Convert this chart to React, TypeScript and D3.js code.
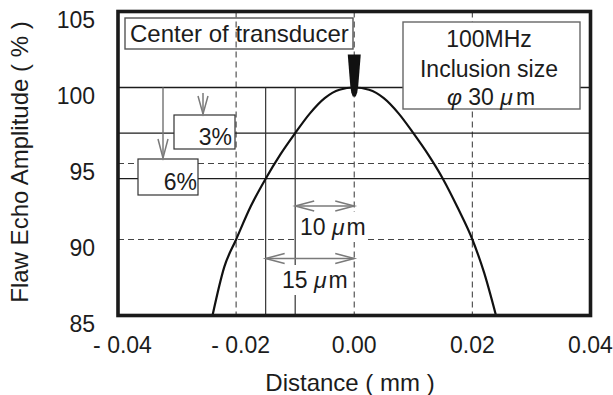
import React from 'react';
import * as d3 from 'd3';

// Echo amplitude profile across the transducer axis (distance in mm, amplitude in %)
const distance = [-0.024, -0.022, -0.02, -0.0175, -0.015, -0.0125, -0.01, -0.0075, -0.005, -0.0025, 0, 0.0025, 0.005, 0.0075, 0.01, 0.0125, 0.015, 0.0175, 0.02, 0.022, 0.024];
const amplitude = [85, 88.2, 90, 92.2, 94, 95.6, 97, 98.3, 99.3, 99.85, 100, 99.85, 99.3, 98.3, 97, 95.6, 94, 92.1, 90, 87.8, 85];

const xTicks = [-0.04, -0.02, 0, 0.02, 0.04];
const xTickLabels = ['- 0.04', '- 0.02', '0.00', '0.02', '0.04'];
const yTicks = [85, 90, 95, 100, 105];
const dashedX = [-0.02, 0, 0.02];
const dashedY = [90, 95];
// peak level and the 3% / 6% drop levels
const levelLines = [100, 97, 94];
// positions where the amplitude drops by 6% and 3%
const dropWidths = [-0.015, -0.01];
const dropLabels = ['6%', '3%'];

const W = 613;
const H = 395;
const FONT = '"Liberation Sans", Arial, Helvetica, sans-serif';
const INK = '#1c1c1c';

export default function App() {
  const x = d3.scaleLinear().domain([-0.04, 0.04]).range([118, 590.5]);
  const y = d3.scaleLinear().domain([85, 105]).range([315.5, 11.5]);
  const [x0, x1] = x.range();
  const [yb, yt] = y.range();

  const pts: [number, number][] = distance.map((d, i) => [d, amplitude[i]]);
  const line = d3
    .line<[number, number]>()
    .x((d) => x(d[0]))
    .y((d) => y(d[1]))
    .curve(d3.curveMonotoneX);

  const cx = x(0);
  const peakY = y(100);
  // downward marker over the beam centre
  const marker = [
    [-6.5, -33], [6.5, -33], [5, -14], [4, -2], [3, 5], [1.5, 9], [-1.5, 9], [-3, 5], [-4, -2], [-5, -14],
  ]
    .map(([dx, dy]) => `${cx + dx},${peakY + dy}`)
    .join(' ');

  const gray = '#7a7a7a';

  // open arrowhead pointing in direction (ux, uy) with tip at (tx, ty)
  const head = (tx: number, ty: number, ux: number, uy: number, len = 19, spread = 5) => {
    const px = -uy;
    const py = ux;
    const bx = tx - ux * len;
    const by = ty - uy * len;
    return `M${bx + px * spread},${by + py * spread} L${tx},${ty} L${bx - px * spread},${by - py * spread}`;
  };

  const xs15 = x(dropWidths[0]);
  const xs10 = x(dropWidths[1]);
  const y10 = y(92.2);
  const y15 = y(88.75);

  return (
    <div style={{ position: 'absolute', left: 0, top: 0 }}>
      <svg width={W} height={H} style={{ display: 'block', background: '#fff' }} fontFamily={FONT}>
        {/* dashed grid */}
        {dashedX.map((v) => (
          <line key={'dx' + v} x1={x(v)} x2={x(v)} y1={yt} y2={yb} stroke="#555" strokeWidth={1.2} strokeDasharray="6 4" />
        ))}
        {dashedY.map((v) => (
          <line key={'dy' + v} x1={x0} x2={x1} y1={y(v)} y2={y(v)} stroke="#444" strokeWidth={1.2} strokeDasharray="6 4" />
        ))}

        {/* peak and drop levels */}
        {levelLines.map((v) => (
          <line key={'lv' + v} x1={x0} x2={x1} y1={y(v)} y2={y(v)} stroke={INK} strokeWidth={1.3} />
        ))}
        {dropWidths.map((v) => (
          <line key={'dw' + v} x1={x(v)} x2={x(v)} y1={peakY} y2={yb} stroke="#333" strokeWidth={1.2} />
        ))}

        {/* amplitude profile */}
        <path d={line(pts) ?? ''} fill="none" stroke="#111" strokeWidth={2.2} />

        {/* drop level boxes */}
        <rect x={174} y={115} width={61} height={34} fill="#fff" stroke="#333" strokeWidth={1.2} />
        <text x={232} y={145} textAnchor="end" fontSize={23} fill={INK}>{dropLabels[1]}</text>
        <rect x={138} y={159} width={60} height={36} fill="#fff" stroke="#333" strokeWidth={1.2} />
        <text x={197} y={190} textAnchor="end" fontSize={23} fill={INK}>{dropLabels[0]}</text>

        {/* leader arrows to the drop boxes */}
        <g stroke={gray} strokeWidth={1.5} fill="none">
          <line x1={203} x2={203} y1={93} y2={114} />
          <path d={head(203, 114, 0, 1, 18, 5)} />
          <line x1={163} x2={163} y1={peakY} y2={158} />
          <path d={head(163, 158, 0, 1, 19, 5)} />
        </g>

        {/* half-width dimension labels */}
        <rect x={296} y={212} width={70} height={30} fill="#fff" />
        <text x={300} y={235} fontSize={23} fill={INK}>
          10 <tspan fontStyle="italic">μ</tspan><tspan dx={2}>m</tspan>
        </text>
        <rect x={270} y={265} width={82} height={30} fill="#fff" />
        <text x={282} y={288} fontSize={23} fill={INK}>
          15 <tspan fontStyle="italic">μ</tspan><tspan dx={2}>m</tspan>
        </text>

        <g stroke={gray} strokeWidth={1.5} fill="none">
          <line x1={xs10} x2={cx} y1={y10} y2={y10} />
          <path d={head(xs10, y10, -1, 0)} />
          <path d={head(cx, y10, 1, 0)} />
          <line x1={xs15} x2={cx} y1={y15} y2={y15} />
          <path d={head(xs15, y15, -1, 0)} />
          <path d={head(cx, y15, 1, 0)} />
        </g>

        {/* centre marker */}
        <polygon points={marker} fill="#111" />

        {/* annotation boxes */}
        <rect x={125} y={18} width={228} height={31} fill="none" stroke="#555" strokeWidth={1.4} />
        <text x={130} y={42} fontSize={24} fill={INK}>Center of transducer</text>

        <rect x={403} y={22} width={177} height={87} fill="#fff" stroke="#666" strokeWidth={1.4} />
        <text x={489} y={47} textAnchor="middle" fontSize={23} fill={INK}>100MHz</text>
        <text x={489} y={77} textAnchor="middle" fontSize={23} fill={INK}>Inclusion size</text>
        <text x={491} y={105} textAnchor="middle" fontSize={23} fill={INK}>
          <tspan fontStyle="italic">φ</tspan> 30 <tspan fontStyle="italic">μ</tspan><tspan dx={3}>m</tspan>
        </text>

        {/* frame */}
        <rect x={x0} y={yt} width={x1 - x0} height={yb - yt} fill="none" stroke="#1a1a1a" strokeWidth={3.6} />

        {/* axes */}
        {yTicks.map((v) => (
          <text key={'yt' + v} x={95} y={y(v) + 16.5} textAnchor="end" fontSize={23} fill={INK}>
            {v}
          </text>
        ))}
        {xTicks.map((v, i) => (
          <text key={'xt' + v} x={x(v) + (v < 0 ? 4.5 : 0)} y={353} textAnchor="middle" fontSize={23} fill={INK}>
            {xTickLabels[i]}
          </text>
        ))}
        <text x={350} y={391} textAnchor="middle" fontSize={24} fill={INK}>Distance ( mm )</text>
        <text transform="translate(28,162) rotate(-90)" textAnchor="middle" fontSize={24} fill={INK}>
          Flaw Echo Amplitude ( % )
        </text>
      </svg>
    </div>
  );
}
